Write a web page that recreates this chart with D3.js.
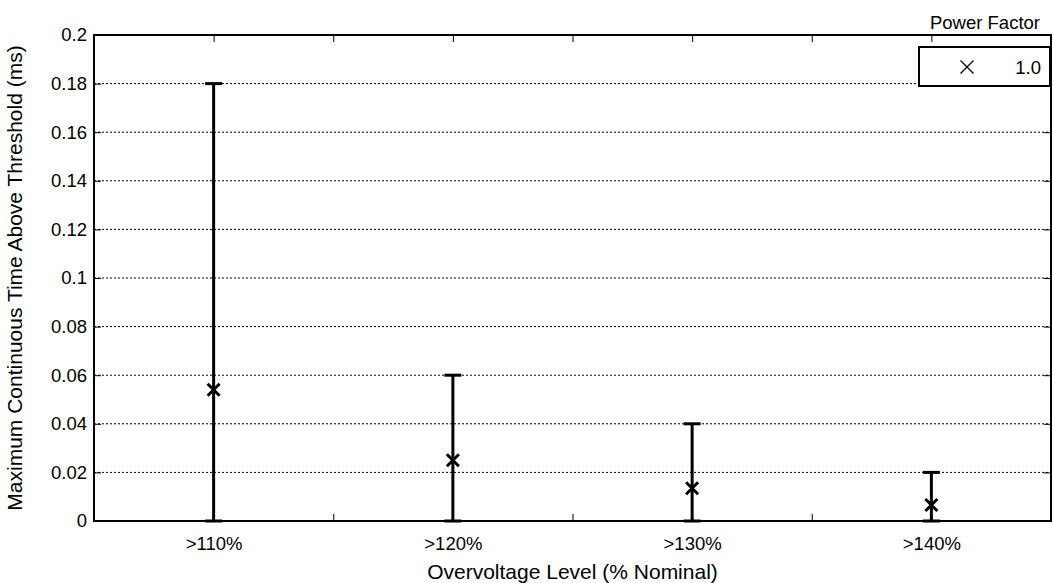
<!DOCTYPE html>
<html>
<head>
<meta charset="utf-8">
<script src="https://cdn.jsdelivr.net/npm/d3@7"></script>
<style>
  body { margin: 0; background: #fff; }
  svg { display: block; font-family: Arial, 'Liberation Sans', sans-serif; }
  .grid line { stroke: #000; stroke-width: 1; stroke-dasharray: 2,2; }
</style>
</head>
<body>
<div id="main"></div>
<script>
// overvoltage categories
const levels = ['>110%', '>120%', '>130%', '>140%'];
// marker value (ms) per category
const means = [0.054, 0.025, 0.0135, 0.0066];
// error bar lower / upper ends (ms)
const lows = [0, 0, 0, 0];
const highs = [0.18, 0.06, 0.04, 0.02];
// y tick values
const yTicks = [0, 0.02, 0.04, 0.06, 0.08, 0.1, 0.12, 0.14, 0.16, 0.18, 0.2];

function main() {
  const width = 1053;
  const height = 583;
  const margin = { left: 94, right: 2, top: 35, bottom: 62 };
  const fontSize = 18.5; // tick labels and legend
  const titleSize = 21; // axis titles

  const x = d3.scaleLinear()
    .domain([0.5, levels.length + 0.5])
    .range([margin.left, width - margin.right]);
  const y = d3.scaleLinear()
    .domain([0, 0.2])
    .range([height - margin.bottom, margin.top]);

  const svg = d3.select('#main')
    .append('svg')
    .attr('width', width)
    .attr('height', height);

  // dotted grid lines
  svg.append('g')
    .classed('grid', true)
    .selectAll('line')
    .data(yTicks.slice(1, -1))
    .enter()
    .append('line')
    .attr('x1', x.range()[0])
    .attr('x2', x.range()[1])
    .attr('y1', d => y(d))
    .attr('y2', d => y(d));

  // left axis with labels, ticks pointing inward
  const yAxis = d3.axisLeft(y)
    .tickValues(yTicks)
    .tickFormat(d => d3.format('~g')(d))
    .tickSizeInner(-7)
    .tickSizeOuter(0)
    .tickPadding(7);
  svg.append('g')
    .attr('transform', `translate(${margin.left},0)`)
    .call(yAxis)
    .call(g => g.selectAll('text').style('font-size', `${fontSize}px`).attr('fill', '#000'));

  // right axis ticks only
  svg.append('g')
    .attr('transform', `translate(${width - margin.right},0)`)
    .call(d3.axisRight(y).tickValues(yTicks).tickSizeInner(-7).tickSizeOuter(0).tickFormat(''));

  // x ticks at category centres and boundaries
  const xTickVals = d3.range(1, levels.length + 0.01, 0.5);
  const xAxis = d3.axisBottom(x)
    .tickValues(xTickVals)
    .tickSizeInner(-7)
    .tickSizeOuter(0)
    .tickPadding(16)
    .tickFormat(d => (Number.isInteger(d) ? levels[d - 1] : ''));
  svg.append('g')
    .attr('transform', `translate(0,${height - margin.bottom})`)
    .call(xAxis)
    .call(g => g.selectAll('text').style('font-size', `${fontSize}px`).attr('fill', '#000'));
  svg.append('g')
    .attr('transform', `translate(0,${margin.top})`)
    .call(d3.axisTop(x).tickValues(xTickVals).tickSizeInner(-7).tickSizeOuter(0).tickFormat(''));

  svg.selectAll('.tick line').attr('stroke', '#000');
  svg.selectAll('.domain').remove();

  // plot box
  svg.append('rect')
    .attr('x', x.range()[0])
    .attr('y', y.range()[1])
    .attr('width', x.range()[1] - x.range()[0])
    .attr('height', y.range()[0] - y.range()[1])
    .attr('fill', 'none')
    .attr('stroke', '#000')
    .attr('stroke-width', 2);

  // error bars
  const bars = svg.append('g')
    .selectAll('g')
    .data(levels.map((d, i) => ({ i: i + 1, lo: lows[i], hi: highs[i], m: means[i] })))
    .enter()
    .append('g');
  bars.append('line')
    .attr('x1', d => x(d.i)).attr('x2', d => x(d.i))
    .attr('y1', d => y(d.lo)).attr('y2', d => y(d.hi))
    .attr('stroke', '#000').attr('stroke-width', 3);
  ['lo', 'hi'].forEach(k => {
    bars.append('line')
      .attr('x1', d => x(d.i) - 8.5).attr('x2', d => x(d.i) + 8.5)
      .attr('y1', d => y(d[k])).attr('y2', d => y(d[k]))
      .attr('stroke', '#000').attr('stroke-width', 3);
  });
  // x markers
  const s = 6;
  bars.append('path')
    .attr('d', d => `M${x(d.i) - s},${y(d.m) - s}L${x(d.i) + s},${y(d.m) + s}M${x(d.i) - s},${y(d.m) + s}L${x(d.i) + s},${y(d.m) - s}`)
    .attr('stroke', '#000').attr('stroke-width', 3).attr('fill', 'none');

  // axis titles
  svg.append('text')
    .attr('x', (x.range()[0] + x.range()[1]) / 2)
    .attr('y', 579)
    .style('font-size', `${titleSize}px`)
    .style('text-anchor', 'middle')
    .text('Overvoltage Level (% Nominal)');
  svg.append('text')
    .attr('transform', `translate(22,${(y.range()[0] + y.range()[1]) / 2}) rotate(-90)`)
    .style('font-size', `${titleSize}px`)
    .style('text-anchor', 'middle')
    .text('Maximum Continuous Time Above Threshold (ms)');

  // legend
  const lg = svg.append('g');
  lg.append('rect')
    .attr('x', 919).attr('y', 47).attr('width', 131).attr('height', 39)
    .attr('fill', '#fff').attr('stroke', '#000').attr('stroke-width', 2);
  const lx = 967, ly = 67, ls = 6.5;
  lg.append('path')
    .attr('d', `M${lx - ls},${ly - ls}L${lx + ls},${ly + ls}M${lx - ls},${ly + ls}L${lx + ls},${ly - ls}`)
    .attr('stroke', '#000').attr('stroke-width', 1.3);
  lg.append('text')
    .attr('x', 1041).attr('y', 74)
    .style('font-size', `${fontSize}px`)
    .style('text-anchor', 'end')
    .text('1.0');
  lg.append('text')
    .attr('x', 985).attr('y', 29)
    .style('font-size', `${fontSize}px`)
    .style('text-anchor', 'middle')
    .text('Power Factor');
}

document.addEventListener('DOMContentLoaded', main);
</script>
</body>
</html>
